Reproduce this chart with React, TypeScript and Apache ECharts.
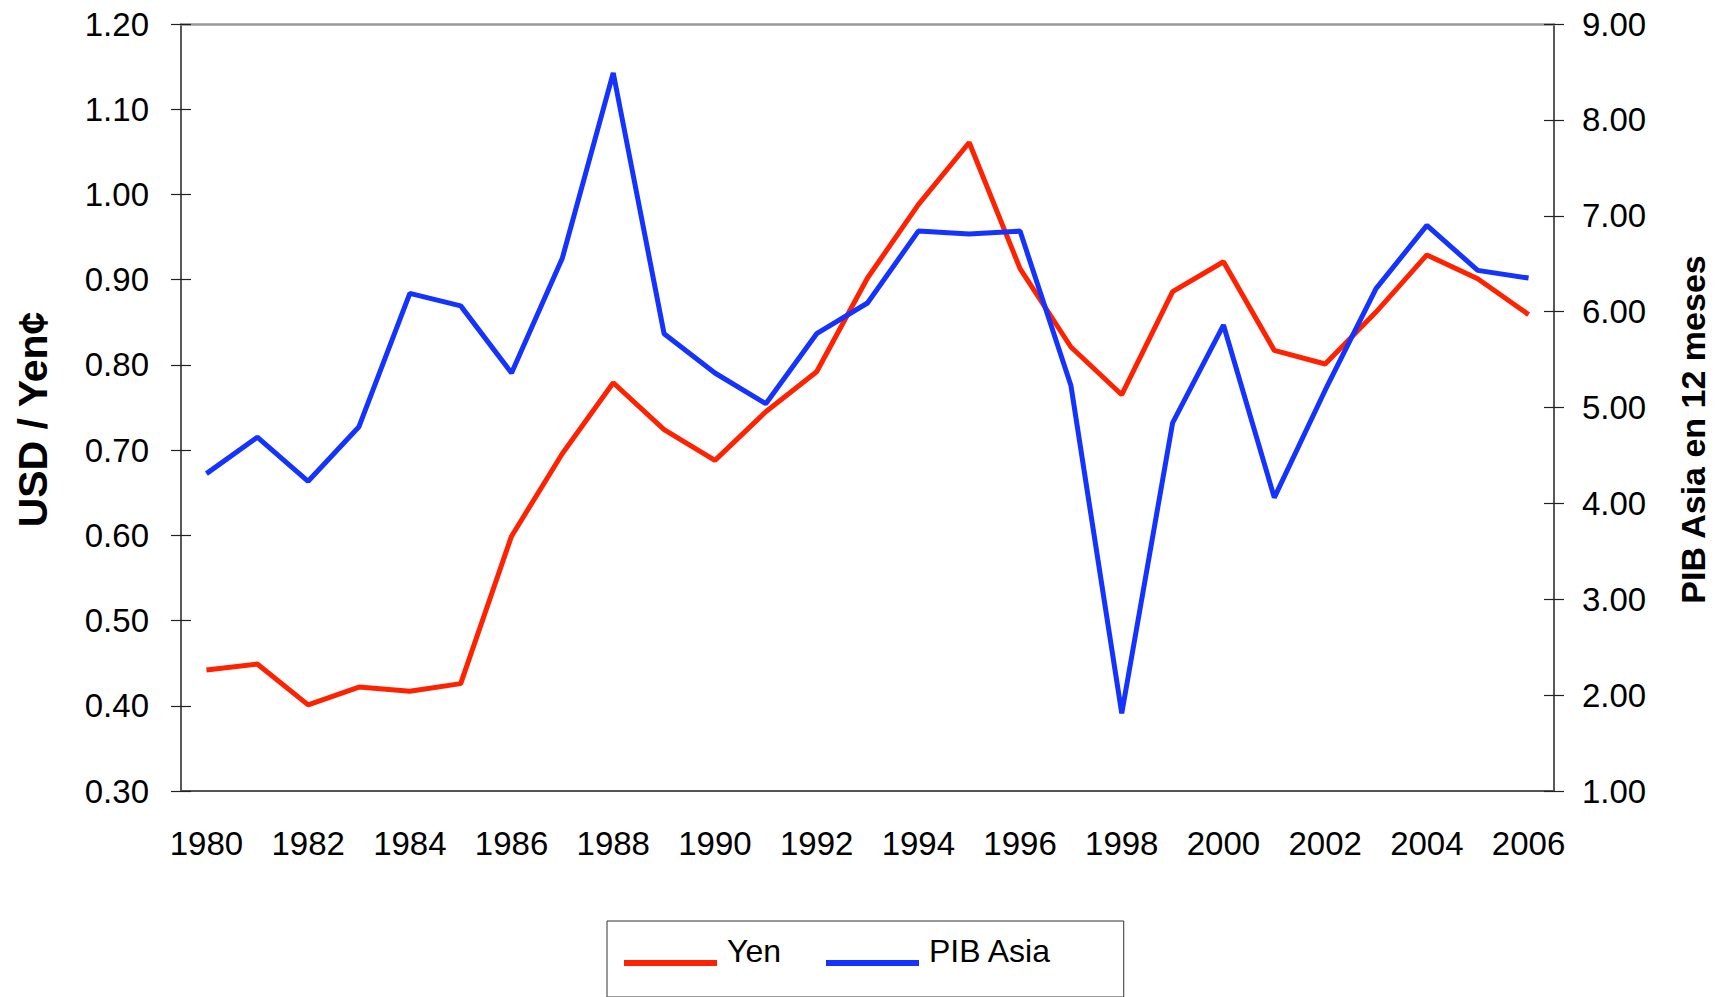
import React, { useEffect, useRef } from "react";
import * as echarts from "echarts";

const years = [
  "1980", "1981", "1982", "1983", "1984", "1985", "1986", "1987", "1988", "1989",
  "1990", "1991", "1992", "1993", "1994", "1995", "1996", "1997", "1998", "1999",
  "2000", "2001", "2002", "2003", "2004", "2005", "2006",
];

const yen = [
  0.442, 0.449, 0.401, 0.422, 0.417, 0.426, 0.599, 0.696, 0.779, 0.724,
  0.688, 0.745, 0.792, 0.902, 0.988, 1.061, 0.913, 0.821, 0.765, 0.886,
  0.921, 0.817, 0.801, 0.862, 0.929, 0.901, 0.859,
];

const pibAsia = [
  4.31, 4.69, 4.23, 4.8, 6.19, 6.06, 5.36, 6.56, 8.49, 5.77,
  5.36, 5.04, 5.77, 6.09, 6.84, 6.81, 6.84, 5.23, 1.81, 4.84,
  5.86, 4.06, 5.18, 6.24, 6.9, 6.43, 6.35,
];

const seriesNames = ["Yen", "PIB Asia"];
const leftAxisName = "USD / Yen¢";
const rightAxisName = "PIB Asia en 12 meses";

const FONT = "'Liberation Sans', Arial, sans-serif";
// legend line drawn at the bottom of its icon box so that it sits on the text baseline
const LEGEND_ICON = "path://M0,0 M0,24 L93,24 L93,30 L0,30 Z";

export default function App() {
  const ref = useRef<HTMLDivElement>(null);

  useEffect(() => {
    document.body.style.margin = "0";
    if (!ref.current) return;
    const chart = echarts.init(ref.current, null, { renderer: "svg" });
    const tickLabel = { color: "#000", fontSize: 33, fontFamily: FONT };
    chart.setOption({
      animation: false,
      backgroundColor: "#fff",
      textStyle: { fontFamily: FONT },
      grid: { left: 181, right: 170, top: 24, bottom: 206, containLabel: false },
      xAxis: [
        {
          type: "category",
          data: years,
          boundaryGap: true,
          position: "bottom",
          axisLine: { lineStyle: { color: "#555", width: 2 } },
          axisTick: { show: false },
          axisLabel: { ...tickLabel, interval: 1, margin: 36 },
          splitLine: { show: false },
        },
        {
          type: "category",
          data: years,
          boundaryGap: true,
          position: "top",
          axisLine: { lineStyle: { color: "#999", width: 2.5 } },
          axisTick: { show: false },
          axisLabel: { show: false },
          splitLine: { show: false },
        },
      ],
      yAxis: [
        {
          type: "value",
          position: "left",
          min: 0.3,
          max: 1.2,
          interval: 0.1,
          axisLine: { show: true, lineStyle: { color: "#222", width: 1.5 } },
          axisTick: { show: true, inside: false, length: 10, lineStyle: { color: "#222", width: 1.2 } },
          axisLabel: { ...tickLabel, margin: 32, formatter: (v: number) => v.toFixed(2) },
          splitLine: { show: false },
          name: leftAxisName,
          nameLocation: "middle",
          nameGap: 128,
          nameTextStyle: {
            fontSize: 41,
            fontWeight: "bold",
            color: "#000",
            fontFamily: FONT,
            padding: [0, 24, 0, 0],
          },
        },
        {
          type: "value",
          position: "right",
          min: 1,
          max: 9,
          interval: 1,
          axisLine: { show: true, lineStyle: { color: "#222", width: 1.5 } },
          axisTick: { show: true, inside: false, length: 10, lineStyle: { color: "#222", width: 1.2 } },
          axisLabel: { ...tickLabel, margin: 28, formatter: (v: number) => v.toFixed(2) },
          splitLine: { show: false },
          name: rightAxisName,
          nameLocation: "middle",
          nameGap: 122,
          nameRotate: 90,
          nameTextStyle: {
            fontSize: 34,
            fontWeight: "bold",
            color: "#000",
            fontFamily: FONT,
            padding: [0, 44, 0, 0],
          },
        },
        {
          type: "value",
          position: "left",
          min: 0.3,
          max: 1.2,
          interval: 0.1,
          axisLine: { show: false },
          axisTick: { show: true, inside: true, length: 10, lineStyle: { color: "#222", width: 1.2 } },
          axisLabel: { show: false },
          splitLine: { show: false },
        },
        {
          type: "value",
          position: "right",
          min: 1,
          max: 9,
          interval: 1,
          axisLine: { show: false },
          axisTick: { show: true, inside: true, length: 10, lineStyle: { color: "#222", width: 1.2 } },
          axisLabel: { show: false },
          splitLine: { show: false },
        },
      ],
      legend: {
        left: 607,
        top: 921,
        orient: "horizontal",
        data: seriesNames,
        icon: LEGEND_ICON,
        itemWidth: 93,
        itemHeight: 30,
        itemGap: 45,
        padding: [14, 72, 30, 17],
        borderColor: "#333",
        borderWidth: 1,
        textStyle: { fontSize: 32, color: "#000", fontFamily: FONT, padding: [0, 0, 0, 5] },
      },
      series: [
        {
          name: seriesNames[0],
          type: "line",
          data: yen,
          xAxisIndex: 0,
          yAxisIndex: 0,
          symbol: "none",
          lineStyle: { color: "#FF2200", width: 5 },
          itemStyle: { color: "#FF2200" },
        },
        {
          name: seriesNames[1],
          type: "line",
          data: pibAsia,
          xAxisIndex: 0,
          yAxisIndex: 1,
          symbol: "none",
          lineStyle: { color: "#1433FF", width: 5 },
          itemStyle: { color: "#1433FF" },
        },
      ],
    });
    return () => chart.dispose();
  }, []);

  return <div ref={ref} style={{ width: 1724, height: 997 }} />;
}
